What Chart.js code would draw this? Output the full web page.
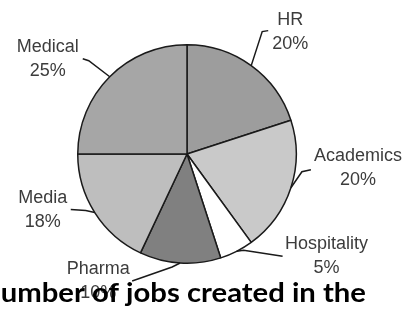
<!DOCTYPE html>
<html>
<head>
<meta charset="utf-8">
<script src="https://cdn.jsdelivr.net/npm/chart.js@4"></script>
<style>
  html, body { margin: 0; padding: 0; background: #fff; }
  #wrap { width: 406px; height: 310px; position: relative; }
</style>
</head>
<body>
<div id="wrap"><canvas id="jobsChart"></canvas></div>
<script>
// sectors, clockwise from 12 o'clock
const sectors = ['HR', 'Academics', 'Hospitality', 'Pharma', 'Media', 'Medical'];
// share of the pie as drawn (the printed labels are below)
const shares = [20, 20, 5, 12, 18, 25];
const shareLabels = ['20%', '20%', '5%', '10%', '18%', '25%'];
const sliceColors = ['#9d9d9d', '#c9c9c9', '#ffffff', '#808080', '#bebebe', '#a6a6a6'];
const titleText = 'Number of jobs created in the';

// leader line / label placement relative to the slice's outer mid point
const labelLayout = [
  { elbow: [11, -34], tail: [17, -35], text: [39, -46] },
  { elbow: [11, -16], tail: [20, -18], text: [67, -32] },
  { elbow: [7, -1],   tail: [46, 5],   text: [90, -7] },
  { elbow: [-8, 4],   tail: [-48, 18], text: [-82, 6] },
  { elbow: [-9, -2],  tail: [-24, -3], text: [-52, -15] },
  { elbow: [-21, -16], tail: [-27, -18], text: [-62, -30] }
];

const sliceLabels = {
  id: 'sliceLabels',
  afterDatasetsDraw(chart) {
    const ctx = chart.ctx;
    const arcs = chart.getDatasetMeta(0).data;
    ctx.save();
    arcs.forEach((arc, i) => {
      const p = arc.getProps(['x', 'y', 'startAngle', 'endAngle', 'outerRadius'], true);
      const mid = (p.startAngle + p.endAngle) / 2;
      const ax = p.x + Math.cos(mid) * p.outerRadius;
      const ay = p.y + Math.sin(mid) * p.outerRadius;
      const lay = labelLayout[i];

      ctx.strokeStyle = '#1a1a1a';
      ctx.lineWidth = 1.5;
      ctx.beginPath();
      ctx.moveTo(ax, ay);
      ctx.lineTo(ax + lay.elbow[0], ay + lay.elbow[1]);
      ctx.lineTo(ax + lay.tail[0], ay + lay.tail[1]);
      ctx.stroke();

      ctx.fillStyle = '#3c3c3c';
      ctx.font = '18px "Liberation Sans", Arial, sans-serif';
      ctx.textAlign = 'center';
      ctx.textBaseline = 'middle';
      ctx.fillText(sectors[i], ax + lay.text[0], ay + lay.text[1]);
      ctx.fillText(shareLabels[i], ax + lay.text[0], ay + lay.text[1] + 24);
    });
    ctx.restore();
  },
  afterDraw(chart) {
    // the caption runs off the left edge, like in the source image
    const ctx = chart.ctx;
    ctx.save();
    ctx.font = 'bold 27px Lato, "Open Sans", sans-serif';
    ctx.fillStyle = '#000';
    ctx.textAlign = 'left';
    ctx.textBaseline = 'alphabetic';
    const nW = ctx.measureText('N').width;
    const restW = ctx.measureText(titleText).width - nW;
    const sx = 365 / restW; // "umber ... the" spans x 1..366
    ctx.translate(1, 302);
    ctx.scale(sx, 1);
    ctx.fillText(titleText, -nW, 0);
    ctx.restore();
  }
};

new Chart(document.getElementById('jobsChart'), {
  type: 'pie',
  data: {
    labels: sectors,
    datasets: [{
      data: shares,
      backgroundColor: sliceColors,
      borderColor: '#1a1a1a',
      borderWidth: 1.5
    }]
  },
  options: {
    responsive: true,
    maintainAspectRatio: false,
    animation: false,
    layout: { padding: { left: 77, right: 109, top: 44, bottom: 46 } },
    plugins: {
      legend: { display: false },
      tooltip: { enabled: false },
      title: { display: false }
    }
  },
  plugins: [sliceLabels]
});
</script>
</body>
</html>
